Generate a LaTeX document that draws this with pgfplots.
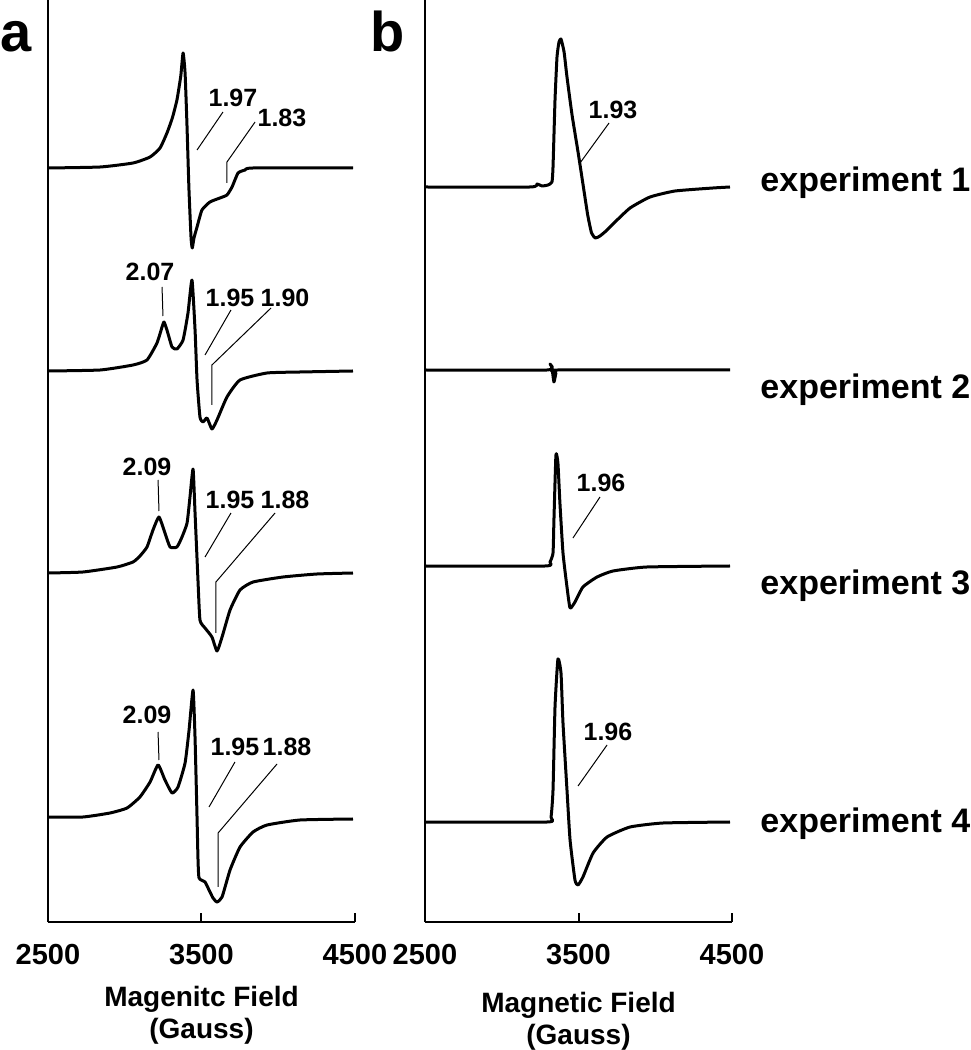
\documentclass[border=0pt]{standalone}
\usepackage{fontspec}
\setmainfont{Liberation Sans}
\usepackage{pgfplots}
\usepackage{pgfplotstable}
\pgfplotsset{compat=1.18}

% spectra: field (G), signal height above own baseline
\pgfplotstableread{
B I
2500 0
2840 1
3054 5
3165 11
3230 20
3275 35
3310 50
3340 68
3365 92
3380 115
3393 95
3405 45
3418 -20
3432 -70
3440 -80
3451 -70
3471 -59
3503 -42
3555 -34
3620 -30
3666 -27
3699 -19
3738 -5
3784 -2
3836 0
4487 0
}\specAone
\pgfplotstableread{
B I
2500 0
2840 1
3054 6
3145 11
3210 28
3243 44
3256 49
3275 41
3308 24
3340 22
3380 31
3412 58
3438 91
3458 41
3471 -9
3490 -46
3510 -51
3536 -47
3568 -58
3601 -49
3666 -26
3751 -9
3927 -2
4142 -1
4487 0
}\specAtwo
\pgfplotstableread{
B I
2500 0
2728 1
2950 6
3054 11
3099 17
3145 26
3184 43
3223 56
3262 40
3295 26
3340 26
3373 36
3406 50
3425 76
3445 104
3458 60
3477 -7
3490 -47
3523 -55
3568 -64
3601 -78
3634 -64
3686 -37
3751 -17
3836 -9
4031 -4
4253 -1
4487 0
}\specAthree
\pgfplotstableread{
B I
2500 1
2728 1
2904 5
3015 10
3099 21
3165 36
3217 53
3262 38
3308 25
3347 31
3393 55
3419 88
3445 128
3458 80
3471 0
3477 -40
3484 -60
3523 -64
3549 -72
3575 -80
3601 -84
3634 -79
3686 -52
3751 -29
3836 -14
3927 -7
4142 -2
4487 -1
}\specAfour
\pgfplotstableread{
B I
2500 0
3184 0
3230 3
3262 1
3301 2
3327 5
3334 20
3347 87
3360 130
3373 145
3386 148
3406 135
3425 110
3458 72
3497 35
3530 2
3560 -28
3585 -46
3610 -51
3640 -49
3679 -44
3738 -35
3836 -21
3966 -10
4129 -4
4376 -1
4487 0
}\specBone
\pgfplotstableread{
B I
2500 0
3295 0
3314 6
3327 2
3340 -12
3353 -3
3366 0
4487 0
}\specBtwo
\pgfplotstableread{
B I
2500 0
3282 0
3314 4
3334 13
3340 46
3353 111
3366 103
3379 63
3399 13
3425 -21
3445 -42
3477 -36
3529 -21
3621 -11
3725 -5
3946 -1
4487 0
}\specBthree
\pgfplotstableread{
B I
2500 0
3295 0
3321 5
3334 32
3347 115
3366 163
3386 149
3399 99
3425 32
3445 -18
3477 -58
3497 -63
3529 -55
3595 -31
3686 -15
3836 -5
4051 -1
4487 0
}\specBfour

\tikzset{
  trace/.style={black, line width=1.5pt, line join=round, smooth, tension=0.3},
  lead/.style={black, line width=0.5pt},
  gval/.style={font=\bfseries\fontsize{12.5}{12.5}\selectfont, inner sep=0pt},
  expt/.style={font=\bfseries\fontsize{17}{17}\selectfont, anchor=base west, inner sep=0pt},
}
\pgfplotsset{
  epr/.style={
    scale only axis, width=153.5pt, height=461pt,
    xmin=2500, xmax=4500, ymin=0, ymax=922,
    axis lines*=left, axis line style={line width=1pt},
    xtick={2500,3500,4500}, xticklabels={2500,3500,4500}, ytick=\empty,
    tick align=inside, major tick length=4.5pt,
    xtick style={line width=1pt, black},
    xticklabel style={font=\bfseries\fontsize{14.5}{14.5}\selectfont, inner sep=0pt, yshift=-11pt},
    xlabel style={font=\bfseries\fontsize{14}{16}\selectfont, align=center, inner sep=0pt,
                  at={(axis description cs:0.5,0)}, anchor=north},
    clip=false,
  },
}

\begin{document}
\begin{tikzpicture}
\path[use as bounding box] (0,0) rectangle (485pt,525pt);

\node[anchor=base west, inner sep=0pt, font=\bfseries\fontsize{28}{28}\selectfont] at (0pt,499pt) {a};
\node[anchor=base west, inner sep=0pt, font=\bfseries\fontsize{28}{28}\selectfont] at (185pt,499pt) {b};

\begin{axis}[epr, at={(24pt,64pt)}, anchor=south west,
  xlabel={Magenitc Field\\(Gauss)}, xlabel style={yshift=-32pt}]
  \addplot[trace] table[x=B, y expr=\thisrow{I}+754] {\specAone};
  \addplot[trace] table[x=B, y expr=\thisrow{I}+551] {\specAtwo};
  \addplot[trace] table[x=B, y expr=\thisrow{I}+349] {\specAthree};
  \addplot[trace] table[x=B, y expr=\thisrow{I}+104] {\specAfour};

  % g-value labels
  \node[gval] at (3705,824) {1.97};
  \draw[lead] (3471,772) -- (3640,810);
  \node[gval] at (4024,804) {1.83};
  \draw[lead] (3666,739) -- (3666,760) -- (3849,800);

  \node[gval] at (3165,650) {2.07};
  \draw[lead] (3243,635) -- (3249,606);
  \node[gval] at (3686,624) {1.95};
  \node[gval] at (4044,624) {1.90};
  \draw[lead] (3692,612) -- (3523,567);
  \draw[lead] (3953,614) -- (3568,557) -- (3568,517);

  \node[gval] at (3145,455) {2.09};
  \draw[lead] (3217,442) -- (3223,411);
  \node[gval] at (3686,422) {1.95};
  \node[gval] at (4044,422) {1.88};
  \draw[lead] (3692,409) -- (3523,365);
  \draw[lead] (3979,409) -- (3594,340) -- (3594,289);

  \node[gval] at (3145,207) {2.09};
  \draw[lead] (3217,190) -- (3223,162);
  \node[gval] at (3718,175) {1.95};
  \node[gval] at (4057,175) {1.88};
  \draw[lead] (3718,160) -- (3549,115);
  \draw[lead] (3992,158) -- (3608,89) -- (3608,35);
\end{axis}

\begin{axis}[epr, at={(212.5pt,64pt)}, anchor=south west,
  xlabel={Magnetic Field\\(Gauss)}, xlabel style={yshift=-35pt}]
  \addplot[trace] table[x=B, y expr=\thisrow{I}+735] {\specBone};
  \addplot[trace] table[x=B, y expr=\thisrow{I}+552] {\specBtwo};
  \addplot[trace] table[x=B, y expr=\thisrow{I}+356] {\specBthree};
  \addplot[trace] table[x=B, y expr=\thisrow{I}+100] {\specBfour};

  \node[gval] at (3725,812) {1.93};
  \draw[lead] (3699,799) -- (3510,759);
  \node[gval] at (3647,439) {1.96};
  \draw[lead] (3640,425) -- (3464,384);
  \node[gval] at (3692,190) {1.96};
  \draw[lead] (3686,177) -- (3497,136);

  \node[expt] at (4683,730) {experiment 1};
  \node[expt] at (4683,523) {experiment 2};
  \node[expt] at (4683,327) {experiment 3};
  \node[expt] at (4683,90) {experiment 4};
\end{axis}
\end{tikzpicture}
\end{document}
